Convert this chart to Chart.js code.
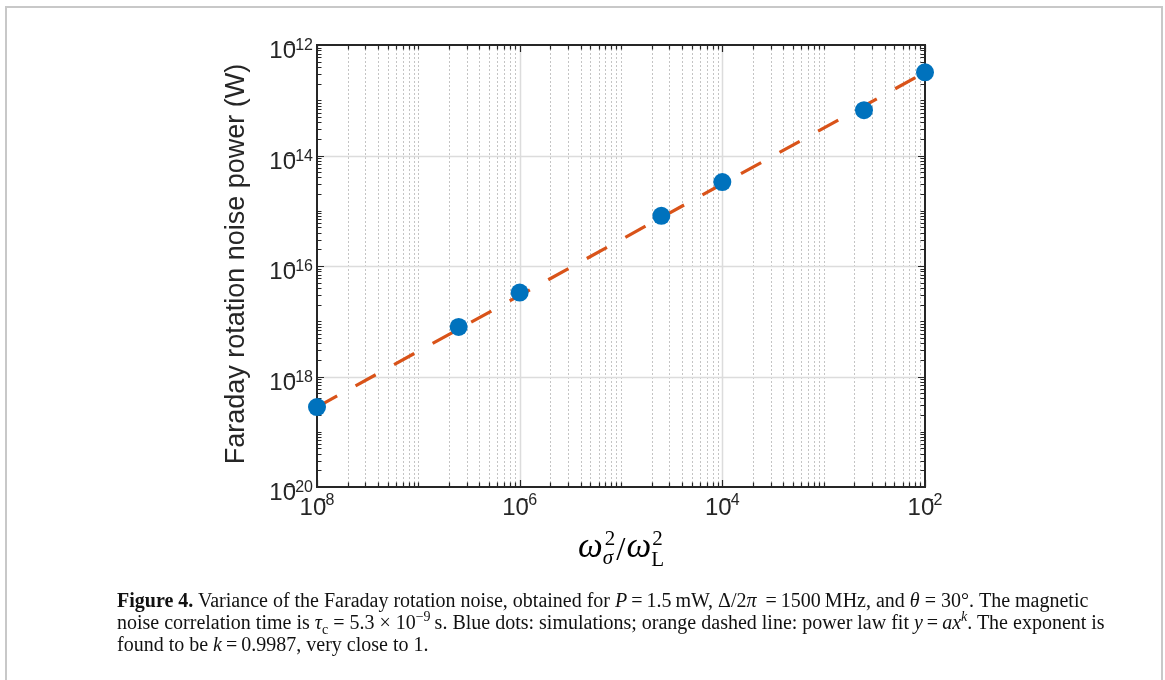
<!DOCTYPE html>
<html>
<head>
<meta charset="utf-8">
<script src="https://cdn.jsdelivr.net/npm/chart.js@4.4.1/dist/chart.umd.min.js"></script>
<style>
  html, body { margin: 0; padding: 0; background: #fff; }
  #page { position: relative; width: 1165px; height: 680px; overflow: hidden; background: #fff; }
  #frame { position: absolute; left: 5px; top: 6px; width: 1154px; height: 720px; border: 2px solid #c8c8c8; }
  #chart { position: absolute; left: 0; top: 0; }
  #caption { position: absolute; left: 117px; top: 589px; width: 1040px; font-family: "Liberation Serif", "DejaVu Serif", serif; font-size: 20px; line-height: 22px; color: #111; white-space: nowrap; }
  #caption sup, #caption sub { font-size: 70%; line-height: 0; }
</style>
</head>
<body>
<div id="page">
  <div id="frame"></div>
  <canvas id="chart" width="1165" height="590"></canvas>
  <div id="caption"><b>Figure 4.</b> Variance of the Faraday rotation noise, obtained for <i>P</i>&thinsp;=&thinsp;1.5&thinsp;mW, Δ/2<i>π</i> &thinsp;=&thinsp;1500&thinsp;MHz, and <i>θ</i> = 30°. The magnetic<br>noise correlation time is <i>τ</i><sub>c</sub> = 5.3 × 10<sup>−9</sup>&thinsp;s. Blue dots: simulations; orange dashed line: power law fit <i>y</i>&thinsp;=&thinsp;<i>ax</i><sup><i>k</i></sup>. The exponent is<br>found to be <i>k</i>&thinsp;=&thinsp;0.9987, very close to 1.</div>
</div>
<script>
// ---- data ----
const simX = [1e-8, 2.5e-7, 1e-6, 2.5e-5, 1e-4, 2.5e-3, 1e-2];
const simY = [2.8e-19, 7.9e-18, 3.3e-17, 8.1e-16, 3.3e-15, 6.6e-14, 3.2e-13];
const fitX = [1e-8, 1e-2];
const fitY = [2.8e-19, 3.2e-13];
const xTickValues = [1e-8, 1e-6, 1e-4, 1e-2];
const xTickExps = ['−8', '−6', '−4', '−2'];
const yTickValues = [1e-20, 1e-18, 1e-16, 1e-14, 1e-12];
const yTickExps = ['−20', '−18', '−16', '−14', '−12'];
const yTitle = 'Faraday rotation noise power (W)';

const AX = '#262626';
const SANS = '"Liberation Sans", Arial, sans-serif';
const SERIF = '"Liberation Serif", "DejaVu Serif", serif';

function minorValues(minExp, maxExp) {
  const out = [];
  for (let e = minExp; e < maxExp; e++) {
    for (let m = 1; m <= 9; m++) out.push(m * Math.pow(10, e));
  }
  out.push(Math.pow(10, maxExp));
  return out;
}
function isLabeled(v, list) {
  return list.some(t => Math.abs(Math.log10(v) - Math.log10(t)) < 1e-6);
}

const decor = {
  id: 'decor',
  beforeDatasetsDraw(chart) {
    const { ctx, chartArea: a, scales: { x, y } } = chart;
    ctx.save();
    // vertical grid
    minorValues(-8, -2).forEach(v => {
      const px = Math.round(x.getPixelForValue(v)) + 0.5;
      if (px <= a.left + 1 || px >= a.right - 1) return;
      ctx.beginPath();
      if (isLabeled(v, xTickValues)) { ctx.setLineDash([]); ctx.strokeStyle = '#dcdcdc'; ctx.lineWidth = 1.5; }
      else { ctx.setLineDash([2, 2]); ctx.strokeStyle = '#c4c4c4'; ctx.lineWidth = 1; }
      ctx.moveTo(px, a.top); ctx.lineTo(px, a.bottom); ctx.stroke();
    });
    // horizontal grid (labeled only)
    ctx.setLineDash([]);
    yTickValues.forEach(v => {
      const py = Math.round(y.getPixelForValue(v)) + 0.5;
      if (py <= a.top + 1 || py >= a.bottom - 1) return;
      ctx.beginPath(); ctx.strokeStyle = '#dcdcdc'; ctx.lineWidth = 1.5;
      ctx.moveTo(a.left, py); ctx.lineTo(a.right, py); ctx.stroke();
    });
    // ticks inward
    ctx.strokeStyle = AX; ctx.lineWidth = 1.2;
    minorValues(-8, -2).forEach(v => {
      const px = Math.round(x.getPixelForValue(v)) + 0.5;
      const L = isLabeled(v, xTickValues) ? 7 : 4.5;
      ctx.beginPath();
      ctx.moveTo(px, a.bottom); ctx.lineTo(px, a.bottom - L);
      ctx.moveTo(px, a.top); ctx.lineTo(px, a.top + L);
      ctx.stroke();
    });
    minorValues(-20, -12).forEach(v => {
      const py = Math.round(y.getPixelForValue(v)) + 0.5;
      const L = isLabeled(v, yTickValues) ? 7 : 4.5;
      ctx.beginPath();
      ctx.moveTo(a.left, py); ctx.lineTo(a.left + L, py);
      ctx.moveTo(a.right, py); ctx.lineTo(a.right - L, py);
      ctx.stroke();
    });
    // box
    ctx.lineWidth = 2;
    ctx.strokeRect(a.left, a.top, a.right - a.left, a.bottom - a.top);
    ctx.restore();
  },
  afterDraw(chart) {
    const { ctx, chartArea: a, scales: { x, y } } = chart;
    ctx.save();
    ctx.fillStyle = AX;
    ctx.textBaseline = 'alphabetic';
    const bigF = '24px ' + SANS, supF = '16px ' + SANS;
    // x tick labels
    xTickValues.forEach((v, i) => {
      ctx.font = bigF; const w10 = ctx.measureText('10').width;
      ctx.font = supF; const ws = ctx.measureText(xTickExps[i]).width;
      const supStart = 0.62 * w10;
      const total = supStart + ws;
      const px = x.getPixelForValue(v);
      const x0 = px - total / 2;
      ctx.textAlign = 'left';
      ctx.font = bigF; ctx.fillText('10', x0, a.bottom + 28);
      ctx.font = supF; ctx.fillText(xTickExps[i], x0 + supStart, a.bottom + 18);
    });
    // y tick labels
    yTickValues.forEach((v, i) => {
      ctx.font = bigF; const w10 = ctx.measureText('10').width;
      ctx.font = supF; const ws = ctx.measureText(yTickExps[i]).width;
      const supStart = 0.62 * w10;
      const right = a.left - 4;
      const x0 = right - (supStart + ws);
      const py = y.getPixelForValue(v);
      ctx.textAlign = 'left';
      ctx.font = bigF; ctx.fillText('10', x0, py + 13);
      ctx.font = supF; ctx.fillText(yTickExps[i], x0 + supStart, py + 5);
    });
    // y title
    ctx.save();
    ctx.translate(244, (a.top + a.bottom) / 2 - 2);
    ctx.rotate(-Math.PI / 2);
    ctx.font = '27px ' + SANS; ctx.textAlign = 'center';
    ctx.fillText(yTitle, 0, 0);
    ctx.restore();
    // x title: omega_sigma^2 / omega_L^2
    ctx.fillStyle = '#000';
    ctx.textAlign = 'left';
    const cx = (a.left + a.right) / 2;
    const bl = 557;
    const omF = 'italic 35px ' + SERIF, smF = '21px ' + SERIF, smI = 'italic 21px ' + SERIF, slF = '33px ' + SERIF;
    ctx.font = omF; const wOm = ctx.measureText('ω').width;
    ctx.font = smF; const w2 = ctx.measureText('2').width; const wL = ctx.measureText('L').width;
    ctx.font = smI; const wS = ctx.measureText('σ').width;
    ctx.font = slF; const wSl = ctx.measureText('/').width;
    const seg1 = wOm + Math.max(w2, wS) + 3;
    const total = seg1 + wSl + wOm + Math.max(w2, wL) + 1;
    let xx = cx - total / 2;
    ctx.font = omF; ctx.fillText('ω', xx, bl);
    ctx.font = smF; ctx.fillText('2', xx + wOm + 2, bl - 12);
    ctx.font = smI; ctx.fillText('σ', xx + wOm, bl + 7);
    xx += seg1;
    ctx.font = slF; ctx.fillText('/', xx, bl + 3);
    xx += wSl + 1;
    ctx.font = omF; ctx.fillText('ω', xx, bl);
    ctx.font = smF; ctx.fillText('2', xx + wOm + 1, bl - 12);
    ctx.font = smF; ctx.fillText('L', xx + wOm, bl + 9);
    ctx.restore();
  }
};

new Chart(document.getElementById('chart'), {
  data: {
    datasets: [
      {
        type: 'scatter',
        label: 'simulations',
        data: simX.map((v, i) => ({ x: v, y: simY[i] })),
        backgroundColor: '#0072BD',
        borderWidth: 0,
        pointRadius: 9,
        pointHoverRadius: 9,
        clip: false,
        order: 0
      },
      {
        type: 'line',
        label: 'fit',
        data: fitX.map((v, i) => ({ x: v, y: fitY[i] })),
        borderColor: '#D95319',
        borderWidth: 3.2,
        borderDash: [23, 21],
        pointRadius: 0,
        fill: false,
        order: 1
      }
    ]
  },
  options: {
    responsive: false,
    devicePixelRatio: 1,
    animation: false,
    layout: { padding: { left: 317, top: 45, right: 240, bottom: 103 } },
    plugins: { legend: { display: false }, tooltip: { enabled: false } },
    scales: {
      x: { type: 'logarithmic', min: 1e-8, max: 1e-2, display: false },
      y: { type: 'logarithmic', min: 1e-20, max: 1e-12, display: false }
    }
  },
  plugins: [decor]
});
</script>
</body>
</html>
